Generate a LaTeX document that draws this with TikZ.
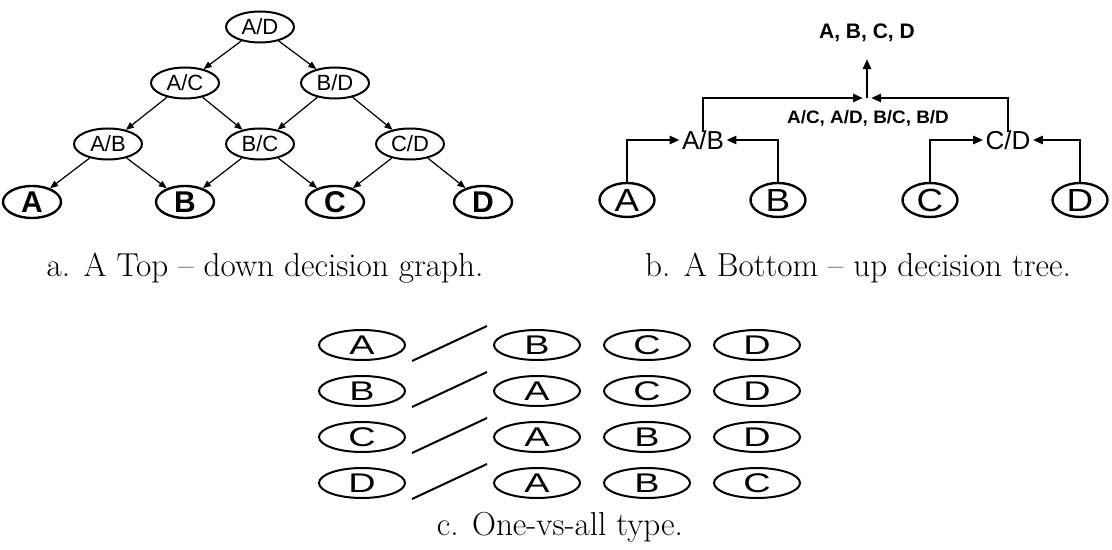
\documentclass[tikz,border=0pt]{standalone}
\usepackage{fontspec}
\newfontfamily\helv{Liberation Sans}
\usetikzlibrary{arrows.meta,shapes.geometric}
\newcommand\wide[2][1.5]{\scalebox{#1}[1]{#2}}
\begin{document}
\begin{tikzpicture}[x=0.5pt,y=-0.5pt,line cap=butt,line join=miter,>={Triangle[length=4pt,width=3.2pt]},font=\helv]
	\tikzset{oval/.style={ellipse,draw,line width=1pt,inner sep=0pt,minimum width=34pt,minimum height=15.5pt,font=\helv\fontsize{11}{11}\selectfont},
		leaf/.style={oval,line width=1.2pt,minimum width=29pt,minimum height=16pt,font=\helv\bfseries\fontsize{15}{15}\selectfont},
		bleaf/.style={oval,line width=1.2pt,minimum width=27.5pt,minimum height=17pt,font=\helv\fontsize{16}{16}\selectfont},
		cleaf/.style={oval,minimum width=43pt,minimum height=15pt,font=\helv\fontsize{13.5}{13.5}\selectfont},
		aline/.style={->,line width=0.6pt},
		bline/.style={->,line width=1.4pt,>={Triangle[length=5pt,width=4pt]}},
		captxt/.style={font=\rmfamily\fontsize{16.6}{18}\selectfont}}
	\useasboundingbox (0,0) rectangle (1112,550);
	% a. top-down graph
	\node[oval] (aAD) at (260,27) {A/D};
	\node[oval] (aAC) at (185,83) {A/C};
	\node[oval] (aBD) at (335,83) {B/D};
	\node[oval] (aAB) at (108,144) {A/B};
	\node[oval] (aBC) at (260,144) {B/C};
	\node[oval] (aCD) at (410,144) {C/D};
	\foreach \n/\x in {A/32,B/185,C/335,D/483}{
		\node[leaf] (a\n) at (\x,202) {\n};}
	\foreach \s/\t in {AD/AC,AD/BD,AC/AB,AC/BC,BD/BC,BD/CD,AB/A,AB/B,BC/B,BC/C,CD/C,CD/D}{
		\draw[aline] (a\s) -- (a\t);}
	\node[captxt] (capa) at (265,268) {a. A Top -- down decision graph.};
	% b. bottom-up tree
	\node[font=\helv\bfseries\fontsize{10.5}{11}\selectfont] (bTop) at (867,33) {A, B, C, D};
	\coordinate (bJ) at (867,98);
	\node[font=\helv\bfseries\fontsize{9}{9}\selectfont] (bMid) at (868,118) {\wide[1.05]{A/C, A/D, B/C, B/D}};
	\node[font=\helv\fontsize{13}{13}\selectfont,inner sep=1pt] (bAB) at (703,140) {A/B};
	\node[font=\helv\fontsize{13}{13}\selectfont,inner sep=1pt] (bCD) at (1008,140) {C/D};
	\foreach \n/\x in {A/627,B/778,C/930,D/1080}{
		\node[bleaf] (b\n) at (\x,200) {\wide[1.15]{\n}};}
	\draw[bline] (bJ) -- ([yshift=-5pt]bTop.south);
	\draw[bline] ([yshift=-2pt]bAB.north) |- ([xshift=-2pt]bJ);
	\draw[bline] ([yshift=-2pt]bCD.north) |- ([xshift=2pt]bJ);
	\draw[bline] (bA) |- (bAB.west);
	\draw[bline] (bB) |- (bAB.east);
	\draw[bline] (bC) |- (bCD.west);
	\draw[bline] (bD) |- (bCD.east);
	\node[captxt] (capb) at (858,268) {b. A Bottom -- up decision tree.};
	% c. one-vs-all
	\foreach \r/\y/\a/\b/\c/\d in {1/345/A/B/C/D,2/391/B/A/C/D,3/437/C/A/B/D,4/483/D/A/B/C}{
		\node[cleaf] (c\r0) at (362,\y) {\wide[1.4]{\a}};
		\node[cleaf] (c\r1) at (537,\y) {\wide[1.4]{\b}};
		\node[cleaf] (c\r2) at (647,\y) {\wide[1.4]{\c}};
		\node[cleaf] (c\r3) at (757,\y) {\wide[1.4]{\d}};
		\draw[line width=1pt] (412,\y+16) -- (487,\y-19);}
	\node[captxt] (capc) at (560,527) {c. One-vs-all type.};
\end{tikzpicture}
\end{document}
